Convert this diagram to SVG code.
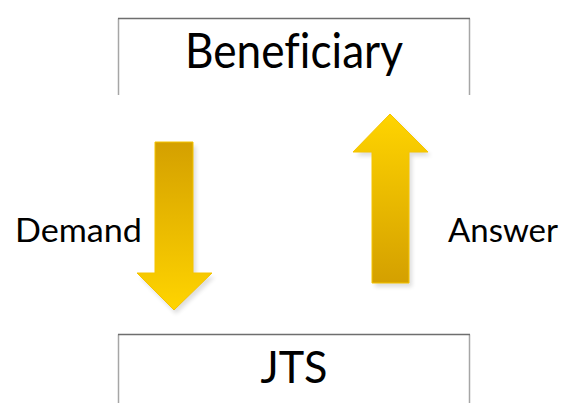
<svg xmlns="http://www.w3.org/2000/svg" width="563" height="403" viewBox="0 0 563 403">
<style>
.lbl{font-family:Lato,"Open Sans","Liberation Sans",sans-serif;fill:#000;font-variant-ligatures:none}
.side{stroke:#a6a6a6;stroke-width:1.5;fill:none}
.topl{stroke:#6e6e6e;stroke-width:1.5;fill:none}
.arr{stroke:#f5c400;stroke-width:1}
.shadow{fill:#000;opacity:0.13}
</style>
<defs>
<linearGradient id="gDown" x1="0" y1="0" x2="0" y2="1">
<stop offset="0" stop-color="#d4a000"/>
<stop offset="1" stop-color="#ffd400"/>
</linearGradient>
<linearGradient id="gUp" x1="0" y1="0" x2="0" y2="1">
<stop offset="0" stop-color="#ffd400"/>
<stop offset="1" stop-color="#d4a000"/>
</linearGradient>
<filter id="blur" x="-20%" y="-20%" width="140%" height="140%"><feGaussianBlur stdDeviation="2"/></filter>
</defs>
<rect width="563" height="403" fill="#fff"/>
<g id="beneficiary">
<path class="side" d="M118.5,18.5 V95 M469.5,18.5 V95"/>
<path class="topl" d="M118,18.5 H470"/>
<text class="lbl" x="294" y="68" font-size="48" text-anchor="middle" textLength="218" lengthAdjust="spacingAndGlyphs">Beneficiary</text>
</g>
<g id="jts">
<path class="side" d="M118.5,334.5 V403 M469.5,334.5 V403"/>
<path class="topl" d="M118,334.5 H470"/>
<text class="lbl" x="294" y="383" font-size="44" text-anchor="middle" textLength="67" lengthAdjust="spacingAndGlyphs">JTS</text>
</g>
<g id="connectors">
<g id="demand-arrow">
<path class="shadow" filter="url(#blur)" d="M158,146 H196 V277 H215 L176,314 L140,277 H158 Z"/>
<path class="arr" fill="url(#gDown)" d="M155,142 H193 V273 H212 L174,310 L137,273 H155 Z"/>
</g>
<g id="answer-arrow">
<path class="shadow" filter="url(#blur)" d="M393,118 L431,156 H412 V287 H375 V156 H356 Z"/>
<path class="arr" fill="url(#gUp)" d="M390,114 L428,152 H409 V283 H372 V152 H353 Z"/>
</g>
</g>
<text class="lbl" x="15" y="242" font-size="33" textLength="127" lengthAdjust="spacingAndGlyphs">Demand</text>
<text class="lbl" x="448" y="242" font-size="33" textLength="110" lengthAdjust="spacingAndGlyphs">Answer</text>
</svg>
